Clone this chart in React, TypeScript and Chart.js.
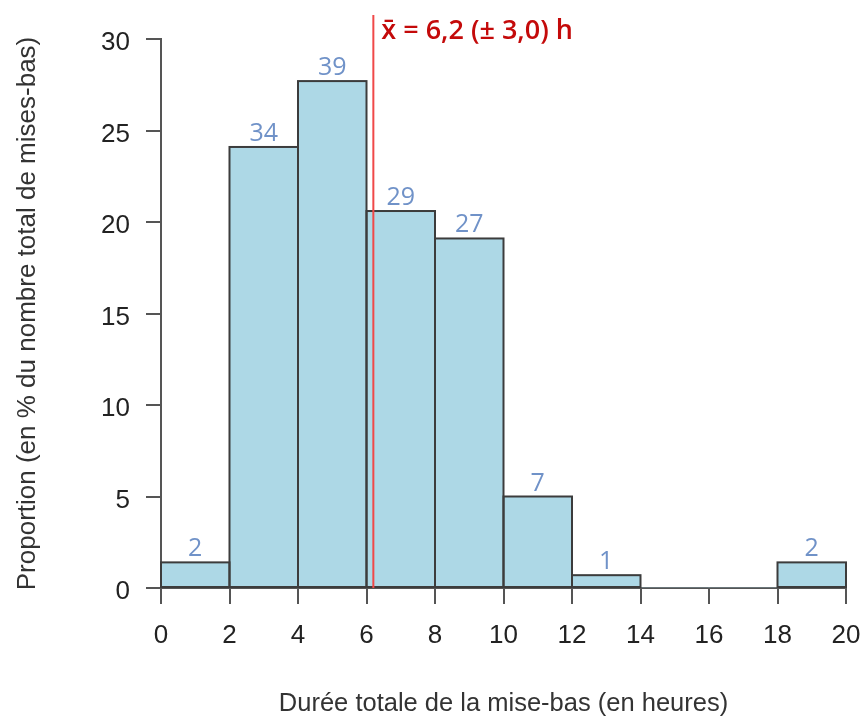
import React, { useEffect, useRef } from 'react';
import { Chart, registerables } from 'chart.js';

Chart.register(...registerables);

// ---- data ----
const binLow = [0, 2, 4, 6, 8, 10, 12, 14, 16, 18];
const binHigh = [2, 4, 6, 8, 10, 12, 14, 16, 18, 20];
const counts = [2, 34, 39, 29, 27, 7, 1, 0, 0, 2];
const proportions = [1.4, 24.1, 27.7, 20.6, 19.1, 5.0, 0.7, 0, 0, 1.4];
const xTickValues = [0, 2, 4, 6, 8, 10, 12, 14, 16, 18, 20];
const yTickValues = [0, 5, 10, 15, 20, 25, 30];
const meanHours = 6.2;
const meanLabel = 'x\u0304 = 6,2 (\u00B1 3,0) h';
const xTitle = 'Durée totale de la mise-bas (en heures)';
const yTitle = 'Proportion (en % du nombre total de mises-bas)';

const AXIS_COLOR = '#555555';
const TEXT_COLOR = '#222222';
const SANS = "'Liberation Sans', Arial, sans-serif";
const HUMANIST = "'Open Sans', Lato, sans-serif";

const histPlugin = {
  id: 'histDecor',
  afterDatasetsDraw(chart: any) {
    const ctx = chart.ctx;
    const meta = chart.getDatasetMeta(0);
    const xs = chart.scales.x;
    const ys = chart.scales.y;
    ctx.save();
    // bar outlines (centered strokes, like R)
    ctx.strokeStyle = '#3c3c3c';
    ctx.lineWidth = 2;
    meta.data.forEach((bar: any, i: number) => {
      if (proportions[i] <= 0) return;
      const p = bar.getProps(['x', 'y', 'base', 'width'], true);
      ctx.strokeRect(p.x - p.width / 2, p.y, p.width, p.base - p.y);
    });
    // count labels
    ctx.fillStyle = '#7092c8';
    ctx.font = `25px ${HUMANIST}`;
    ctx.textAlign = 'center';
    ctx.textBaseline = 'alphabetic';
    meta.data.forEach((bar: any, i: number) => {
      if (counts[i] <= 0) return;
      const p = bar.getProps(['x', 'y'], true);
      ctx.fillText(String(counts[i]), p.x, p.y - 6);
    });
    // mean line
    const mx = xs.getPixelForValue(meanHours);
    ctx.strokeStyle = '#f04848';
    ctx.lineWidth = 2;
    ctx.beginPath();
    ctx.moveTo(mx, chart.chartArea.top - 24);
    ctx.lineTo(mx, ys.getPixelForValue(0));
    ctx.stroke();
    ctx.fillStyle = '#c40a0a';
    ctx.font = `600 27px ${HUMANIST}`;
    ctx.textAlign = 'left';
    ctx.fillText(meanLabel, mx + 8, chart.chartArea.top);
    ctx.restore();
  },
};

export default function App() {
  const canvasRef = useRef<HTMLCanvasElement | null>(null);

  useEffect(() => {
    const canvas = canvasRef.current;
    if (!canvas) return;
    Chart.defaults.font.family = SANS;
    const chart = new Chart(canvas, {
      type: 'bar',
      data: {
        datasets: [
          {
            label: 'Proportion',
            data: proportions.map((v, i) => ({ x: (binLow[i] + binHigh[i]) / 2, y: v })),
            backgroundColor: '#add8e6',
            borderWidth: 0,
            barPercentage: 1,
            categoryPercentage: 1,
          },
        ],
      },
      options: {
        responsive: false,
        animation: false,
        devicePixelRatio: 1,
        layout: { padding: { left: 0, right: 16, top: 39, bottom: 0 } },
        plugins: {
          legend: { display: false },
          tooltip: { enabled: false },
        },
        scales: {
          x: {
            type: 'linear',
            min: 0,
            max: 20,
            offset: false,
            afterBuildTicks: (scale: any) => {
              scale.ticks = xTickValues.map((v) => ({ value: v }));
            },
            afterFit: (scale: any) => {
              scale.height = 129;
              scale.paddingLeft = 0;
              scale.paddingRight = 0;
            },
            grid: {
              display: true,
              offset: false,
              drawOnChartArea: false,
              drawTicks: true,
              tickLength: 16,
              tickColor: AXIS_COLOR,
              tickWidth: 2,
              lineWidth: 2,
              color: AXIS_COLOR,
            },
            border: { display: true, color: AXIS_COLOR, width: 2 },
            ticks: {
              autoSkip: false,
              maxRotation: 0,
              padding: 16,
              color: TEXT_COLOR,
              font: { size: 26, family: SANS },
            },
            title: {
              display: true,
              text: xTitle,
              color: '#333333',
              font: { size: 25.5, family: SANS, lineHeight: 1 },
              padding: { top: 0, bottom: 0 },
            },
          },
          y: {
            type: 'linear',
            min: 0,
            max: 30,
            afterBuildTicks: (scale: any) => {
              scale.ticks = yTickValues.map((v) => ({ value: v }));
            },
            afterFit: (scale: any) => {
              scale.width = 161;
              scale.paddingTop = 0;
              scale.paddingBottom = 0;
            },
            grid: {
              display: true,
              drawOnChartArea: false,
              drawTicks: true,
              tickLength: 15,
              tickColor: AXIS_COLOR,
              tickWidth: 2,
              lineWidth: 2,
              color: AXIS_COLOR,
            },
            border: { display: true, color: AXIS_COLOR, width: 2 },
            ticks: {
              padding: 16,
              labelOffset: 4,
              color: TEXT_COLOR,
              font: { size: 26, family: SANS },
            },
            title: {
              display: true,
              text: yTitle,
              color: '#333333',
              font: { size: 26, family: SANS, lineHeight: 1 },
              padding: { top: 15, bottom: 0 },
            },
          },
        },
      },
      plugins: [histPlugin],
    } as any);
    return () => chart.destroy();
  }, []);

  return (
    <div style={{ position: 'absolute', left: 0, top: 0, width: 862, height: 717, background: '#ffffff' }}>
      <canvas ref={canvasRef} width={862} height={717} style={{ display: 'block' }} />
    </div>
  );
}
